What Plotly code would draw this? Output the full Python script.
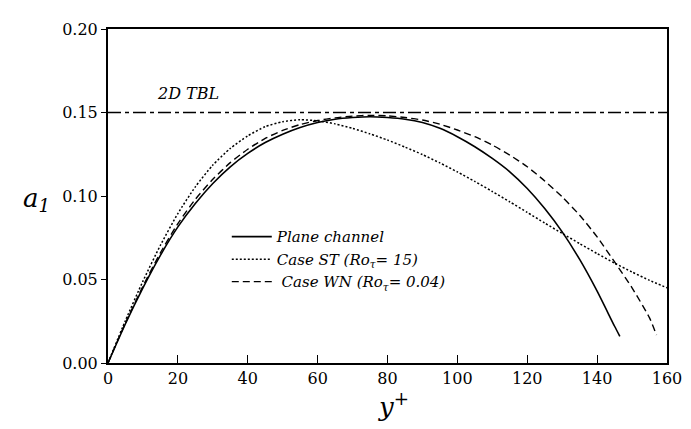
import plotly.graph_objects as go

# ---- data ----
x_plane = [0, 5, 10, 15, 20, 25, 30, 35, 40, 45, 50, 55, 60, 65, 70, 75, 80, 85, 90, 95,
           100, 105, 110, 115, 120, 125, 130, 135, 140, 145, 146.5]
a1_plane = [0, 0.0235, 0.045, 0.0645, 0.0815, 0.0955, 0.1075, 0.1175, 0.1255, 0.132, 0.137,
            0.141, 0.144, 0.146, 0.147, 0.1475, 0.147, 0.146, 0.144, 0.1405, 0.1355, 0.1295,
            0.1225, 0.1145, 0.1045, 0.0925, 0.0785, 0.062, 0.043, 0.022, 0.016]

x_st = [0, 5, 10, 15, 20, 25, 30, 35, 40, 45, 50, 55, 60, 65, 70, 75, 80, 85, 90, 95,
        100, 105, 110, 115, 120, 125, 130, 135, 140, 145, 150, 155, 160]
a1_st = [0, 0.0255, 0.049, 0.0705, 0.0895, 0.1055, 0.1185, 0.1285, 0.136, 0.1415, 0.1445,
         0.1457, 0.145, 0.1432, 0.1405, 0.1372, 0.1335, 0.1293, 0.1248, 0.1198, 0.1144,
         0.1087, 0.1027, 0.0965, 0.0902, 0.0838, 0.0776, 0.0715, 0.0655, 0.0598, 0.0545,
         0.0495, 0.045]

x_wn = [0, 5, 10, 15, 20, 25, 30, 35, 40, 45, 50, 55, 60, 65, 70, 75, 80, 85, 90, 95,
        100, 105, 110, 115, 120, 125, 130, 135, 140, 145, 150, 155, 157]
a1_wn = [0, 0.024, 0.046, 0.066, 0.0835, 0.098, 0.110, 0.120, 0.128, 0.1345, 0.1393, 0.1428,
         0.1452, 0.1468, 0.1478, 0.1483, 0.148, 0.147, 0.1455, 0.143, 0.1395, 0.1355, 0.1305,
         0.1245, 0.1175, 0.109, 0.0995, 0.0885, 0.0755, 0.0605, 0.045, 0.027, 0.0167]

x_tbl = [0, 160]
a1_tbl = [0.15, 0.15]

x_ticks = [0, 20, 40, 60, 80, 100, 120, 140, 160]
y_ticks = [0.00, 0.05, 0.10, 0.15, 0.20]

FONT = "DejaVu Serif"

fig = go.Figure()
fig.add_trace(go.Scatter(x=x_tbl, y=a1_tbl, mode="lines", showlegend=False,
                         line=dict(color="black", width=1.3, dash="13px,4px,4px,4px")))
fig.add_trace(go.Scatter(x=x_plane, y=a1_plane, mode="lines", name="<i>Plane channel</i>",
                         line=dict(color="black", width=1.6, shape="spline", smoothing=0.6)))
fig.add_trace(go.Scatter(x=x_st, y=a1_st, mode="lines",
                         name="<i>Case ST (Ro<sub>τ</sub>= 15)</i>",
                         line=dict(color="black", width=1.5, dash="2px,2px",
                                   shape="spline", smoothing=0.6)))
fig.add_trace(go.Scatter(x=x_wn, y=a1_wn, mode="lines",
                         name="<i> Case WN (Ro<sub>τ</sub>= 0.04)</i>",
                         line=dict(color="black", width=1.4, dash="7px,4px",
                                   shape="spline", smoothing=0.6)))

fig.update_layout(
    width=691, height=429,
    margin=dict(l=100, r=32, t=19, b=74),
    paper_bgcolor="white", plot_bgcolor="white",
    font=dict(family=FONT, color="black", size=16),
    legend=dict(x=0.2125, y=0.427, xanchor="left", yanchor="top",
                bgcolor="rgba(0,0,0,0)", font=dict(family=FONT, size=15),
                itemwidth=40, tracegroupgap=0),
    xaxis=dict(range=[0, 160], tickvals=x_ticks, ticks="inside", ticklen=8,
               tickwidth=1.3, tickcolor="black", showline=True, linecolor="black",
               linewidth=2, mirror=True, showgrid=False, zeroline=False,
               tickfont=dict(family=FONT, size=16)),
    yaxis=dict(range=[0, 0.2], tickvals=y_ticks, tickformat=".2f", ticks="outside",
               ticklen=5, tickwidth=1.3, tickcolor="black", showline=True,
               linecolor="black", linewidth=2, mirror=True, showgrid=False,
               zeroline=False, tickfont=dict(family=FONT, size=16)),
    annotations=[
        dict(text="<i>2D TBL</i>", x=23, y=0.1545, xref="x", yref="y",
             xanchor="center", yanchor="bottom", showarrow=False,
             font=dict(family=FONT, size=16)),
        dict(text="<i>a<sub>1</sub></i>", x=-0.128, y=0.49, xref="paper", yref="paper",
             xanchor="center", yanchor="middle", showarrow=False,
             font=dict(family=FONT, size=26)),
        dict(text="<i>y<sup>+</sup></i>", x=0.51, y=-0.125, xref="paper", yref="paper",
             xanchor="center", yanchor="middle", showarrow=False,
             font=dict(family=FONT, size=26)),
    ],
)

fig.write_html("out.html")
